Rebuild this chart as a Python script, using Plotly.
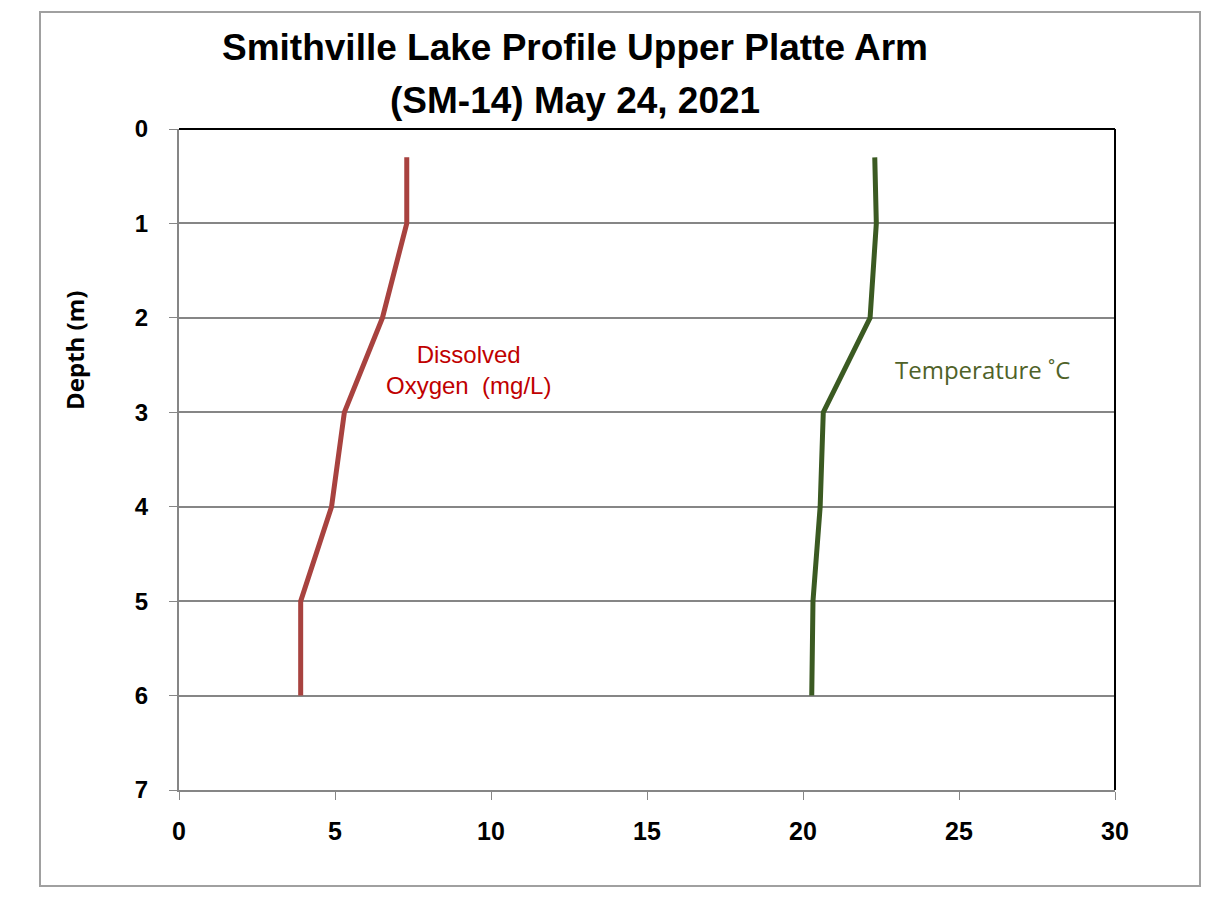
import plotly.graph_objects as go

depth = [0.3, 1, 2, 3, 4, 5, 6]
dissolved_oxygen = [7.3, 7.3, 6.52, 5.3, 4.89, 3.9, 3.9]
temperature = [22.3, 22.35, 22.15, 20.65, 20.55, 20.32, 20.28]
x_ticks = [0, 5, 10, 15, 20, 25, 30]
y_ticks = [0, 1, 2, 3, 4, 5, 6, 7]

OFF = 8  # page body offset
L, T = 179 - OFF, 129 - OFF
PW, PH = 936, 661

fig = go.Figure()
fig.add_trace(go.Scatter(x=dissolved_oxygen, y=depth, mode="lines",
                         line=dict(color="#A8423F", width=5), name="Dissolved Oxygen (mg/L)"))
fig.add_trace(go.Scatter(x=temperature, y=depth, mode="lines",
                         line=dict(color="#3B5A22", width=5), name="Temperature °C"))

fig.update_layout(
    width=1223, height=915,
    margin=dict(l=L, r=1223 - L - PW, t=T, b=915 - T - PH),
    paper_bgcolor="white", plot_bgcolor="white",
    showlegend=False,
    xaxis=dict(range=[0, 30], tickvals=x_ticks, showgrid=False, zeroline=False,
               showline=True, linecolor="#868686", linewidth=2, mirror=False,
               ticks="outside", ticklen=8, tickcolor="#868686", tickwidth=1,
               ticklabelstandoff=10,
               tickfont=dict(family="Liberation Sans Narrow, Arial Narrow, Liberation Sans, sans-serif",
                             size=25, color="black", weight="bold")),
    yaxis=dict(range=[7, 0], tickvals=y_ticks, showgrid=True, gridcolor="#868686", gridwidth=2,
               zeroline=False, showline=True, linecolor="#868686", linewidth=2,
               ticks="outside", ticklen=8, tickcolor="#868686", tickwidth=1,
               ticklabelstandoff=16,
               tickfont=dict(family="Liberation Sans, Arial, sans-serif", size=24, color="black",
                             weight="bold")),
)

# plot top & right borders (black)
fig.add_shape(type="line", xref="paper", yref="paper", x0=0, x1=1, y0=1, y1=1,
              line=dict(color="black", width=2))
fig.add_shape(type="line", xref="paper", yref="paper", x0=1, x1=1, y0=0, y1=1,
              line=dict(color="black", width=2))
# outer chart border
fig.add_shape(type="rect", xref="paper", yref="paper", x0=-0.1485, x1=1.0908, y0=-0.1452, y1=1.177,
              line=dict(color="#A0A0A0", width=2))

title_font = dict(family="Liberation Sans Narrow, Arial Narrow, Liberation Sans, sans-serif",
                  size=37, color="black", weight="bold")
fig.add_annotation(text="Smithville Lake Profile Upper Platte Arm", xref="paper", yref="paper",
                   x=(575 - 179) / PW, y=(790 - 48) / PH, showarrow=False, font=title_font,
                   xanchor="center", yanchor="middle")
fig.add_annotation(text="(SM-14) May 24, 2021", xref="paper", yref="paper",
                   x=(575 - 179) / PW, y=(790 - 100) / PH, showarrow=False, font=title_font,
                   xanchor="center", yanchor="middle")

# y-axis title
fig.add_annotation(text="Depth (m)", xref="paper", yref="paper",
                   x=(74 - 179) / PW, y=(790 - 351) / PH, showarrow=False, textangle=-90,
                   font=dict(family="Open Sans, sans-serif", size=24, color="black", weight="bold"),
                   xanchor="center", yanchor="middle")

fig.add_annotation(text="Dissolved<br>Oxygen  (mg/L)", x=(468 - 179) / PW * 30, y=(370 - 129) / PH * 7,
                   showarrow=False,
                   font=dict(family="Liberation Sans, Arial, sans-serif", size=24, color="#C00000"),
                   xanchor="center", yanchor="middle")
fig.add_annotation(text="Temperature ˚C", x=(982 - 179) / PW * 30, y=(369 - 129) / PH * 7,
                   showarrow=False,
                   font=dict(family="Open Sans, sans-serif", size=24, color="#4F6228"),
                   xanchor="center", yanchor="middle")

fig.write_html("out.html")
